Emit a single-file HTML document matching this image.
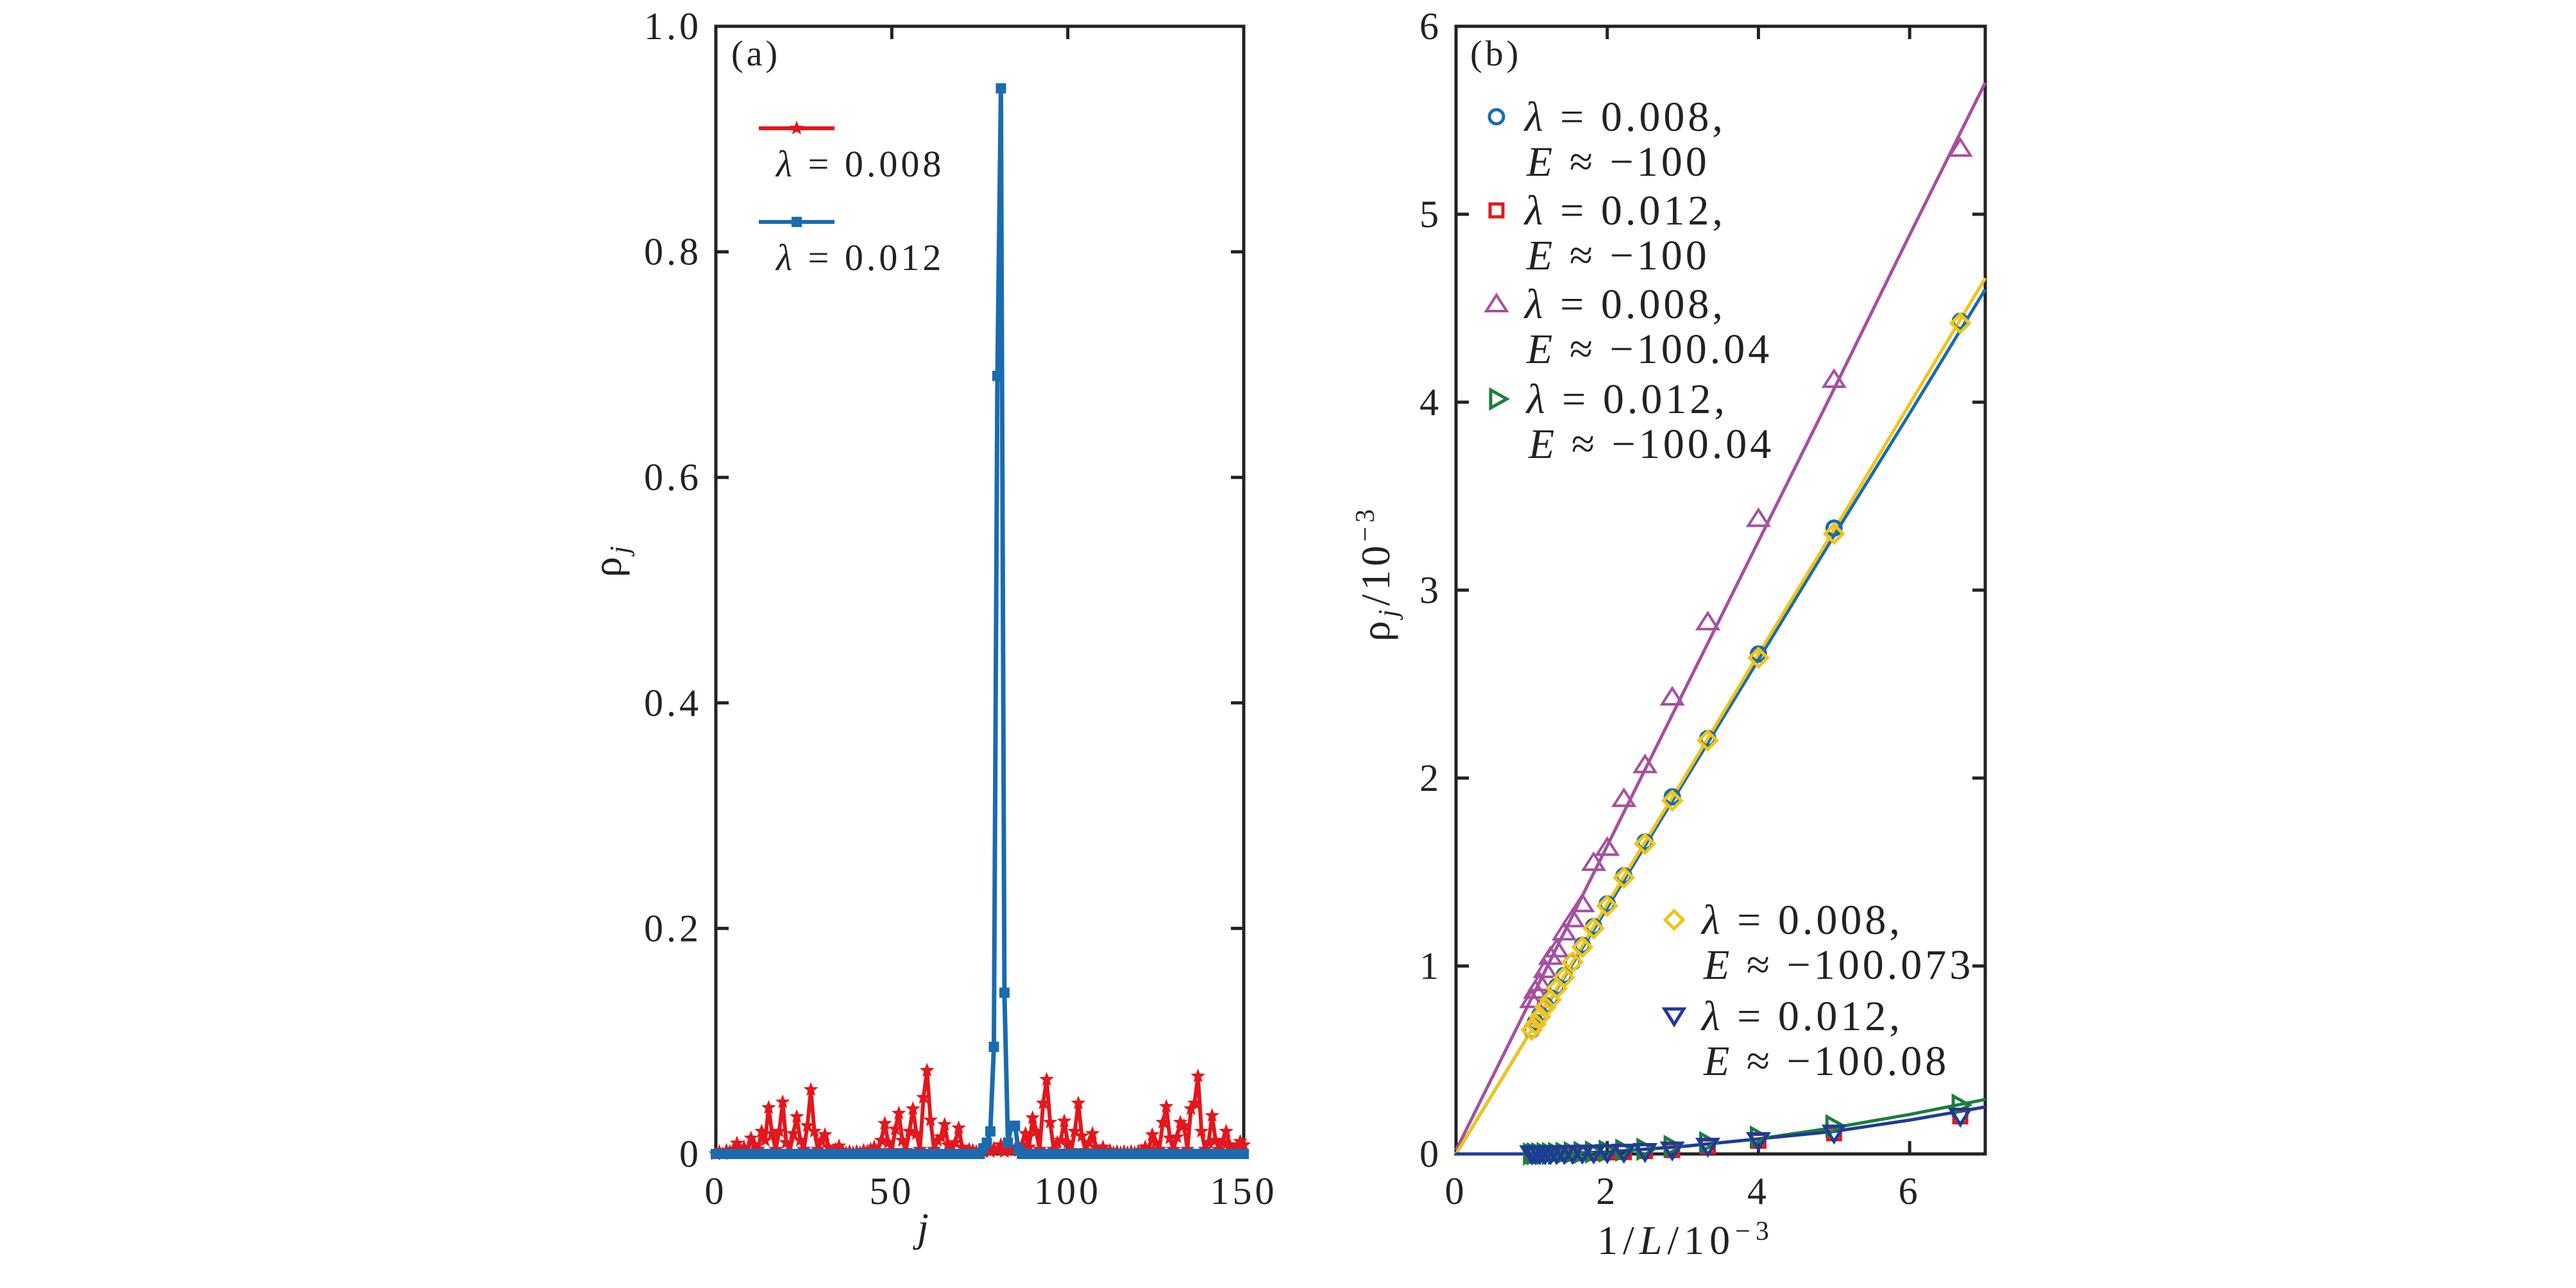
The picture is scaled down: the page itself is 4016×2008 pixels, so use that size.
<!DOCTYPE html>
<html><head><meta charset="utf-8"><style>
html,body{margin:0;padding:0;background:#fff}
svg{display:block}
text{font-family:"Liberation Serif",serif}
</style></head><body>
<svg id="chart" width="4016" height="2008" viewBox="0 0 4016 2008" xmlns="http://www.w3.org/2000/svg">
<rect width="4016" height="2008" fill="#fff"/>
<g id="pa"></g>
<g id="pb"></g>
</svg>
<script>
// ---------- Panel (a) data ----------
const aXTicks = [0, 50, 100, 150];
const aYTicks = [0, 0.2, 0.4, 0.6, 0.8, 1.0];
const aYTickLabels = ["0", "0.2", "0.4", "0.6", "0.8", "1.0"];
const aXTickLabels = ["0", "50", "100", "150"];
const redRho = [
0,0.002,0,0.003,0.002,0.004,0.0095,0.003,0.006,0.002,0.014,0.008,0.004,0.02,0.012,0.041,0.018,0.004,0.02,0.046,0.01,0.002,0.018,0.033,0.012,0.004,0.025,0.057,0.02,0.004,0.012,0.017,0.006,0.002,0.004,0.007,0.003,0.001,0.002,0.001,
0.002,0.001,0.003,0.002,0.004,0.006,0.003,0.012,0.027,0.01,0.003,0.022,0.036,0.012,0.003,0.02,0.040,0.018,0.004,0.05,0.074,0.03,0.004,0.012,0.015,0.026,0.008,0.002,0.01,0.023,
0.006,0.002,0.004,0.003,0.002,0.003,0.002,0.004,0.002,0.005,0.003,0.008,0.002,0.006,0.003,0.004,0.003,0.008,0.018,0.006,0.032,0.02,0.004,0.045,0.066,0.028,0.004,0.01,0.012,0.029,
0.01,0.003,0.02,0.045,0.016,0.003,0.01,0.018,0.006,0.003,0.006,0.002,0.003,0.001,0.002,0.001,0.002,0.001,0.002,0.001,0.002,0.003,0.006,0.004,0.017,0.01,0.004,0.028,0.042,0.014,
0.004,0.015,0.028,0.025,0.004,0.04,0.045,0.069,0.02,0.004,0.01,0.034,0.012,0.004,0.01,0.020,0.008,0.004,0.006,0.011,0.008
];
const blueRho = (function(){ const v=[]; for(let j=0;j<151;j++) v.push(0.0); return v; })();
const bluePeakIdx = [76,77,78,79,80,81,82,83,84,85,86];
const bluePeakVal = [0.005,0.01,0.02,0.095,0.69,0.945,0.143,0.01,0.025,0.025,0.004];
bluePeakIdx.forEach((j,i)=>{ blueRho[j]=bluePeakVal[i]; });

// ---------- Panel (b) data ----------
const bXTicks = [0, 2, 4, 6];
const bYTicks = [0, 1, 2, 3, 4, 5, 6];
const invL = [6.67,5,4,3.33,2.86,2.5,2.22,2,1.82,1.67,1.54,1.43,1.33,1.25,1.18,1.11,1.05,1.0];
const blueCirc = [4.43,3.33,2.66,2.21,1.90,1.66,1.48,1.33,1.21,1.11,1.02,0.95,0.89,0.83,0.79,0.74,0.70,0.66];
const redSq =   [0.20,0.11,0.07,0.04,0.02,0.015,0.01,0.008,0.005,0.004,0.003,0.002,0.002,0.001,0.001,0.001,0.0,0.0];
const magTri =  [5.35,4.12,3.38,2.83,2.43,2.07,1.89,1.63,1.55,1.33,1.25,1.18,1.09,1.05,0.98,0.91,0.87,0.82];
const greenTri =[0.26,0.15,0.09,0.06,0.04,0.025,0.02,0.015,0.01,0.008,0.006,0.004,0.003,0.002,0.002,0.001,0.001,0.0];
const yelDia =  [4.42,3.30,2.64,2.20,1.88,1.65,1.47,1.32,1.20,1.10,1.02,0.94,0.88,0.82,0.78,0.73,0.69,0.66];
const navyTri = [0.20,0.11,0.07,0.04,0.02,0.012,0.008,0.006,0.004,0.003,0.002,0.001,0.001,0.0,0.0,0.0,0.0,0.0];
const fitX = [0,1,2,3,4,5,6,7];
const fitMag = [0.02,0.83,1.64,2.45,3.26,4.07,4.89,5.70];
const fitYel = [0.0,0.66,1.33,1.99,2.66,3.32,3.99,4.66];
const fitBlue = [0.0,0.66,1.31,1.97,2.63,3.29,3.94,4.60];
const fitGreen = [0.0,0.0,0.01,0.04,0.08,0.14,0.21,0.29];
const fitNavy = [0.0,0.0,0.01,0.04,0.08,0.12,0.18,0.25];

const NS="http://www.w3.org/2000/svg";
function mk(tag, attrs, parent){ const e=document.createElementNS(NS,tag); for(const k in attrs) e.setAttribute(k,attrs[k]); parent.appendChild(e); return e; }

// ---------- Panel (a) ----------
const A={x0:1116,x1:1939,y0:41,y1:1799,xmin:0,xmax:150,ymin:0,ymax:1};
const ax=v=>A.x0+(v-A.xmin)/(A.xmax-A.xmin)*(A.x1-A.x0);
const ay=v=>A.y1-(v-A.ymin)/(A.ymax-A.ymin)*(A.y1-A.y0);
const pa=document.getElementById('pa');

function frame(P, g, xt, xl, yt, yl, xfn, yfn){
  const f=mk('rect',{x:P.x0,y:P.y0,width:P.x1-P.x0,height:P.y1-P.y0,fill:'none',stroke:'#222','stroke-width':5},g);
  
  
  xt.forEach((v,i)=>{
    const x=xfn(v);
    const t1=mk('line',{x1:x,y1:P.y1,x2:x,y2:P.y1-20,stroke:'#222','stroke-width':5},g);
    
    
    const t2=mk('line',{x1:x,y1:P.y0,x2:x,y2:P.y0+20,stroke:'#222','stroke-width':5},g);
    
    
    const l=mk('text',{x:x,y:1877,'font-size':60,'text-anchor':'middle','letter-spacing':5,fill:'#222'},g);
    l.textContent=xl[i];
    
    
  });
  yt.forEach((v,i)=>{
    const y=yfn(v);
    const t1=mk('line',{x1:P.x0,y1:y,x2:P.x0+20,y2:y,stroke:'#222','stroke-width':5},g);
    
    
    const t2=mk('line',{x1:P.x1,y1:y,x2:P.x1-20,y2:y,stroke:'#222','stroke-width':5},g);
    
    
    const l=mk('text',{x:P.x0-22,y:y+20,'font-size':60,'text-anchor':'end','letter-spacing':5,fill:'#222'},g);
    l.textContent=yl[i];
    
    
  });
}
frame(A,pa,aXTicks,aXTickLabels,aYTicks,aYTickLabels,ax,ay);

function star(cx,cy,r,fill,g){
  let d='';
  for(let k=0;k<10;k++){ const rr=k%2?r*0.42:r; const a=-Math.PI/2+k*Math.PI/5; d+=(k?'L':'M')+(cx+rr*Math.cos(a)).toFixed(1)+','+(cy+rr*Math.sin(a)).toFixed(1); }
  return mk('path',{d:d+'Z',fill:fill},g);
}
const redG=mk('g',{},pa);


const redLine=mk('polyline',{points:redRho.map((v,j)=>ax(j)+','+ay(v)).join(' '),fill:'none',stroke:'#e3171d','stroke-width':6,'stroke-linejoin':'round'},redG);


redRho.forEach((v,j)=>{ const s=star(ax(j),ay(v),12,'#e3171d',redG);
  
   });
const blueG=mk('g',{},pa);


const blueLine=mk('polyline',{points:blueRho.map((v,j)=>ax(j)+','+ay(v)).join(' '),fill:'none',stroke:'#1a6bb0','stroke-width':7,'stroke-linejoin':'round'},blueG);


blueRho.forEach((v,j)=>{ const s=mk('rect',{x:ax(j)-8,y:ay(v)-8,width:16,height:16,fill:'#1a6bb0'},blueG);
  
   });
function txt(g,x,y,str,size,name,extra){
  const t=mk('text',Object.assign({x:x,y:y,'font-size':size,fill:'#222','letter-spacing':5},extra||{}),g);
  t.innerHTML=str;
  
  
  return t;
}
txt(pa,1140,102,'(a)',56,'panel-label-a');
const la1=mk('line',{x1:1183,y1:200,x2:1301,y2:200,stroke:'#e3171d','stroke-width':6},pa);


const ls1=star(1242,200,12,'#e3171d',pa);


txt(pa,1210,275,'<tspan font-style="italic">λ</tspan> = 0.008',58,'legend-entry-lambda-0.008');
const la2=mk('line',{x1:1183,y1:346,x2:1301,y2:346,stroke:'#1a6bb0','stroke-width':6},pa);


const ls2=mk('rect',{x:1234,y:338,width:16,height:16,fill:'#1a6bb0'},pa);


txt(pa,1210,421,'<tspan font-style="italic">λ</tspan> = 0.012',58,'legend-entry-lambda-0.012');
txt(pa,1430,1935,'j',64,'x-axis-title',{'font-style':'italic'});
txt(pa,0,0,'ρ<tspan font-size="42" dy="12" font-style="italic">j</tspan>',64,'y-axis-title',{transform:'translate(968,900) rotate(-90)'});

// ---------- Panel (b) ----------
const B={x0:2270,x1:3095,y0:41,y1:1799,xmin:0,xmax:7,ymin:0,ymax:6};
const bx=v=>B.x0+(v-B.xmin)/(B.xmax-B.xmin)*(B.x1-B.x0);
const by=v=>B.y1-(v-B.ymin)/(B.ymax-B.ymin)*(B.y1-B.y0);
const pb=document.getElementById('pb');
frame(B,pb,bXTicks,bXTicks.map(String),bYTicks,bYTicks.map(String),bx,by);

function fit(ys,color,name){
  const p=mk('polyline',{points:fitX.map((x,i)=>bx(x)+','+by(ys[i])).join(' '),fill:'none',stroke:color,'stroke-width':5},pb);
  
  
}
function marker(type,cx,cy,color,g){
  let e;
  if(type==='circle') e=mk('circle',{cx:cx,cy:cy,r:11,fill:'none',stroke:color,'stroke-width':5},g);
  else if(type==='square') e=mk('rect',{x:cx-10,y:cy-10,width:20,height:20,fill:'none',stroke:color,'stroke-width':5},g);
  else if(type==='up') e=mk('polygon',{points:`${cx},${cy-14} ${cx+16},${cy+11} ${cx-16},${cy+11}`,fill:'none',stroke:color,'stroke-width':4},g);
  else if(type==='right') e=mk('polygon',{points:`${cx-11},${cy-14} ${cx+14},${cy} ${cx-11},${cy+14}`,fill:'none',stroke:color,'stroke-width':5},g);
  else if(type==='down') e=mk('polygon',{points:`${cx},${cy+13} ${cx+15},${cy-11} ${cx-15},${cy-11}`,fill:'none',stroke:color,'stroke-width':5},g);
  else e=mk('polygon',{points:`${cx},${cy-14} ${cx+14},${cy} ${cx},${cy+14} ${cx-14},${cy}`,fill:'none',stroke:color,'stroke-width':5},g);
  return e;
}
function series(ys,type,color,name){
  const g=mk('g',{},pb);
  
  
  ys.forEach((v,i)=>{ const m=marker(type,bx(invL[i]),by(v),color,g);
    
     });
}
fit(fitMag,'#a5509f','fit-line-magenta');
fit(fitBlue,'#1a6bb0','fit-line-blue');
fit(fitYel,'#efc51a','fit-line-yellow');
fit(fitGreen,'#1a7f3a','fit-line-green');
fit(fitNavy,'#1f3a99','fit-line-navy');
series(blueCirc,'circle','#1a6bb0','series-blue-circles');
series(redSq,'square','#e3171d','series-red-squares');
series(magTri,'up','#a5509f','series-magenta-triangles');
series(greenTri,'right','#1a7f3a','series-green-triangles');
series(yelDia,'diamond','#efc51a','series-yellow-diamonds');
series(navyTri,'down','#1f3a99','series-navy-triangles');

txt(pb,2292,102,'(b)',56,'panel-label-b');
const legB=[
 ['circle','#1a6bb0',2333,182,'0.008','−100','legend-entry-blue-circle',2377],
 ['square','#e3171d',2333,328,'0.012','−100','legend-entry-red-square',2377],
 ['up','#a5509f',2333,474,'0.008','−100.04','legend-entry-magenta-triangle',2377],
 ['right','#1a7f3a',2335,622,'0.012','−100.04','legend-entry-green-triangle',2380],
 ['diamond','#efc51a',2610,1434,'0.008','−100.073','legend-entry-yellow-diamond',2653],
 ['down','#1f3a99',2610,1584,'0.012','−100.08','legend-entry-navy-triangle',2653]
];
legB.forEach(e=>{
  const m=marker(e[0],e[2],e[3],e[1],pb);
  
  
  txt(pb,e[7],e[3]+22,'<tspan font-style="italic">λ</tspan> = '+e[4]+',',66,e[6]+'-lambda',{'letter-spacing':5});
  txt(pb,e[7]+3,e[3]+92,'<tspan font-style="italic">E</tspan> ≈ '+e[5],66,e[6]+'-energy',{'letter-spacing':5});
});
txt(pb,2490,1955,'1/<tspan font-style="italic">L</tspan>/10<tspan font-size="42" dy="-22">−3</tspan>',64,'x-axis-title-b',{'letter-spacing':8});
txt(pb,0,0,'ρ<tspan font-size="42" dy="12" font-style="italic">j</tspan><tspan dy="-12">/10</tspan><tspan font-size="42" dy="-24">−3</tspan>',64,'y-axis-title-b',{transform:'translate(2166,1000) rotate(-90)','letter-spacing':6});
</script>
</body></html>
